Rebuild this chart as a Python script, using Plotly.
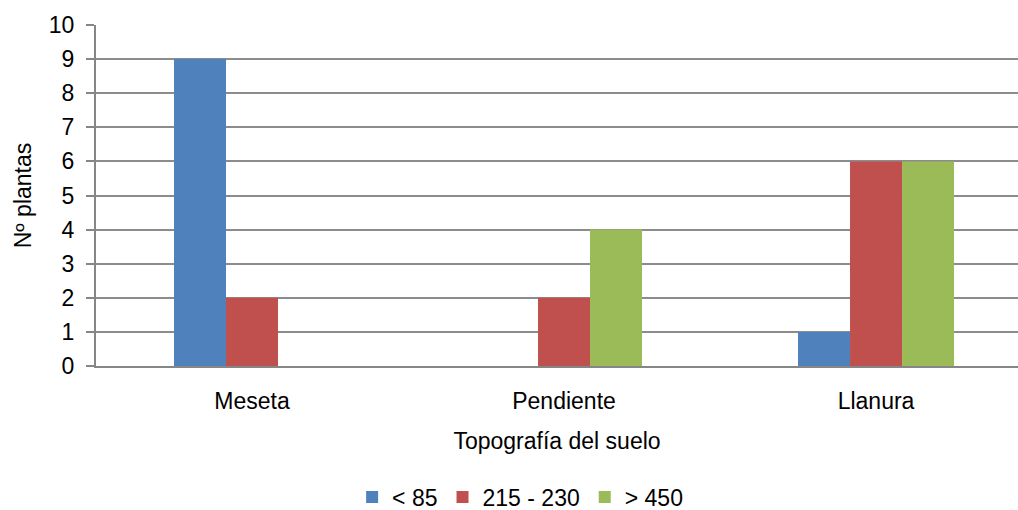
import plotly.graph_objects as go

categories = ["Meseta", "Pendiente", "Llanura"]
series_names = ["< 85", "215 - 230", "> 450"]
values_lt85 = [9, 0, 1]
values_215_230 = [2, 2, 6]
values_gt450 = [0, 4, 6]
colors = ["#4F81BD", "#C0504D", "#9BBB59"]
y_ticks = list(range(0, 11))

fig = go.Figure()
for name, vals, col in zip(series_names, [values_lt85, values_215_230, values_gt450], colors):
    fig.add_trace(go.Bar(
        x=categories, y=vals, name=name,
        marker=dict(color=col, line=dict(width=0)),
    ))

font = "Liberation Sans, Arial, sans-serif"
fs = 23
fig.update_layout(
    width=1018, height=510,
    margin=dict(l=96, r=0, t=25, b=144, autoexpand=False),
    paper_bgcolor="white", plot_bgcolor="white",
    barmode="group", bargap=0.5, bargroupgap=0,
    font=dict(family=font, size=fs, color="black"),
    showlegend=True,
    legend=dict(orientation="h", x=0.46, xanchor="center", y=-0.384, yanchor="middle",
                font=dict(size=fs), itemwidth=30, traceorder="normal"),
    xaxis=dict(
        title=dict(text="Topografía del suelo", font=dict(size=fs), standoff=20),
        range=[-0.5, 2.455], automargin=False,
        showline=True, linecolor="#868686", linewidth=2,
        ticks="", ticklabelstandoff=13, tickfont=dict(size=fs), showgrid=False,
    ),
    yaxis=dict(
        title=dict(text="Nº plantas", font=dict(size=fs), standoff=11),
        range=[0, 10], tickvals=y_ticks, ticktext=[str(v) for v in y_ticks],
        automargin=False,
        showline=True, linecolor="#868686", linewidth=2,
        ticks="outside", ticklen=8, tickcolor="#868686", tickwidth=2,
        ticklabelstandoff=7,
        showgrid=True, gridcolor="#8c8c8c", gridwidth=2,
        zeroline=False, tickfont=dict(size=fs),
    ),
)

fig.write_html("out.html")
